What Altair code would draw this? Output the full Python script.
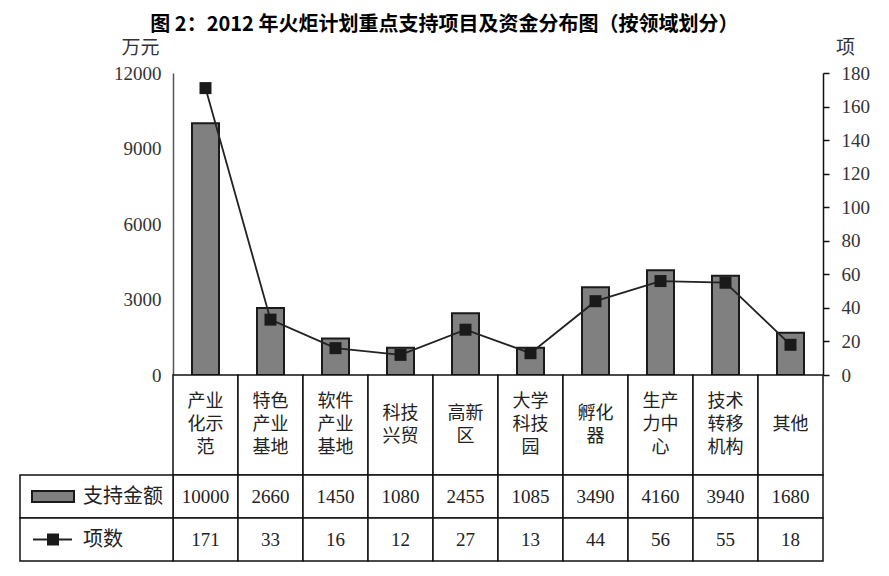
import altair as alt
import pandas as pd

# ---- data ----
categories = ["产业化示范", "特色产业基地", "软件产业基地", "科技兴贸", "高新区",
              "大学科技园", "孵化器", "生产力中心", "技术转移机构", "其他"]
label_lines = ["产业\n化示\n范", "特色\n产业\n基地", "软件\n产业\n基地", "科技\n兴贸", "高新\n区",
               "大学\n科技\n园", "孵化\n器", "生产\n力中\n心", "技术\n转移\n机构", "其他"]
amounts = [10000, 2660, 1450, 1080, 2455, 1085, 3490, 4160, 3940, 1680]
counts = [171, 33, 16, 12, 27, 13, 44, 56, 55, 18]
row_names = ["支持金额", "项数"]
left_ticks = [0, 3000, 6000, 9000, 12000]
right_ticks = [0, 20, 40, 60, 80, 100, 120, 140, 160, 180]
title_text = "图 2：2012 年火炬计划重点支持项目及资金分布图（按领域划分）"

df = pd.DataFrame({"cat": categories, "label": label_lines,
                   "amount": amounts, "count": counts})
df["nlines"] = [s.count("\n") + 1 for s in label_lines]
vals = pd.DataFrame({
    "cat": categories + categories,
    "row": [row_names[0]] * len(categories) + [row_names[1]] * len(categories),
    "val": [str(a) for a in amounts] + [str(c) for c in counts],
})
rows_df = pd.DataFrame({"row": row_names})
amount_row = pd.DataFrame({"row": [row_names[0]]})
count_row = pd.DataFrame({"row": [row_names[1]]})

CJK = "Noto Sans CJK SC"
SERIF = "Liberation Serif"
W = 650
LH = 23

def xenc():
    return alt.X("cat:N", sort=categories,
                 scale=alt.Scale(paddingInner=0, paddingOuter=0), axis=None)

# ---- top plot ----
bars = alt.Chart(df).mark_bar(size=27, fill="#808080", stroke="#1a1a1a",
                              strokeWidth=2).encode(
    x=xenc(),
    y=alt.Y("amount:Q", scale=alt.Scale(domain=[0, 12000], nice=False),
            axis=alt.Axis(values=left_ticks, format="d", title="万元", titleAngle=0,
                          titleX=-33, titleY=-26, titleAlign="center",
                          titleBaseline="middle", ticks=False, grid=False,
                          domainColor="#555", domainWidth=1.5, labelPadding=12,
                          labelFont=SERIF, labelFontSize=19, labelColor="#333",
                          titleFont=CJK, titleFontSize=19, titleFontWeight="normal",
                          titleColor="#333")),
)
line = alt.Chart(df).mark_line(
    color="#222", strokeWidth=1.8,
    point=alt.OverlayMarkDef(shape="square", size=144, filled=True,
                             color="#1a1a1a", opacity=1)).encode(
    x=xenc(),
    y=alt.Y("count:Q", scale=alt.Scale(domain=[0, 180], nice=False),
            axis=alt.Axis(orient="right", values=right_ticks, format="d", title="项",
                          titleAngle=0, titleX=22, titleY=-26, titleAlign="center",
                          titleBaseline="middle", grid=False, tickSize=6,
                          tickWidth=1.5, tickColor="#111", domainColor="#111",
                          domainWidth=1.5, labelPadding=12, labelFont=SERIF,
                          labelFontSize=19, labelColor="#333", titleFont=CJK,
                          titleFontSize=19, titleFontWeight="normal",
                          titleColor="#333")),
)

top = alt.layer(bars, line).resolve_scale(y="independent").properties(
    width=W, height=302)

# ---- header row of table ----
header_cells = alt.Chart(df).mark_rect(fill="white", stroke="#111",
                                       strokeWidth=1.5).encode(x=xenc())
header_layers = [header_cells]
for n in sorted(set(df["nlines"])):
    header_layers.append(
        alt.Chart(df).transform_filter(alt.datum.nlines == n).mark_text(
            lineBreak="\n", font=CJK, fontSize=18, lineHeight=LH, color="#222",
            baseline="middle", dy=-(n - 1) * LH / 2).encode(
            x=xenc(), text="label:N"))
header = alt.layer(*header_layers).properties(width=W, height=100)

# ---- value rows of table ----
def yrow():
    return alt.Y("row:N", sort=row_names,
                 scale=alt.Scale(paddingInner=0, paddingOuter=0), axis=None)

cells = alt.Chart(vals).mark_rect(fill="white", stroke="#111",
                                  strokeWidth=1.5).encode(x=xenc(), y=yrow())
cell_text = alt.Chart(vals).mark_text(font=SERIF, fontSize=19, color="#222").encode(
    x=xenc(), y=yrow(), text="val:N")
leg_cells = alt.Chart(rows_df).mark_rect(fill="white", stroke="#111",
                                         strokeWidth=1.5).encode(
    x=alt.value(-153), x2=alt.value(0), y=yrow())
leg_text = alt.Chart(rows_df).mark_text(font=CJK, fontSize=20, color="#222",
                                        align="left").encode(
    x=alt.value(-90), y=yrow(), text="row:N")
swatch = alt.Chart(amount_row).mark_point(
    shape="M-1,-0.262L1,-0.262L1,0.262L-1,0.262Z", size=1764, fill="#808080",
    stroke="#1a1a1a", strokeWidth=2, fillOpacity=1, strokeOpacity=1, opacity=1).encode(
    x=alt.value(-120), y=yrow())
leg_line = alt.Chart(count_row).mark_rule(color="#222", strokeWidth=2).encode(
    x=alt.value(-140), x2=alt.value(-101), y=yrow())
leg_sq = alt.Chart(count_row).mark_point(shape="square", size=144, filled=True,
                                         color="#1a1a1a", opacity=1).encode(
    x=alt.value(-120), y=yrow())
values = alt.layer(cells, cell_text, leg_cells, leg_text, swatch, leg_line,
                   leg_sq).properties(width=W, height=86)

chart = alt.vconcat(top, header, values, spacing=0, bounds="flush").properties(
    title=alt.TitleParams(title_text, font=CJK, fontSize=20, fontWeight="bold",
                          anchor="middle", color="#000", offset=3),
    padding={"left": 11, "top": 7, "right": 5, "bottom": 5},
).configure_view(stroke=None)

chart.save("out.html", embed_options={"renderer": "svg", "actions": False})
